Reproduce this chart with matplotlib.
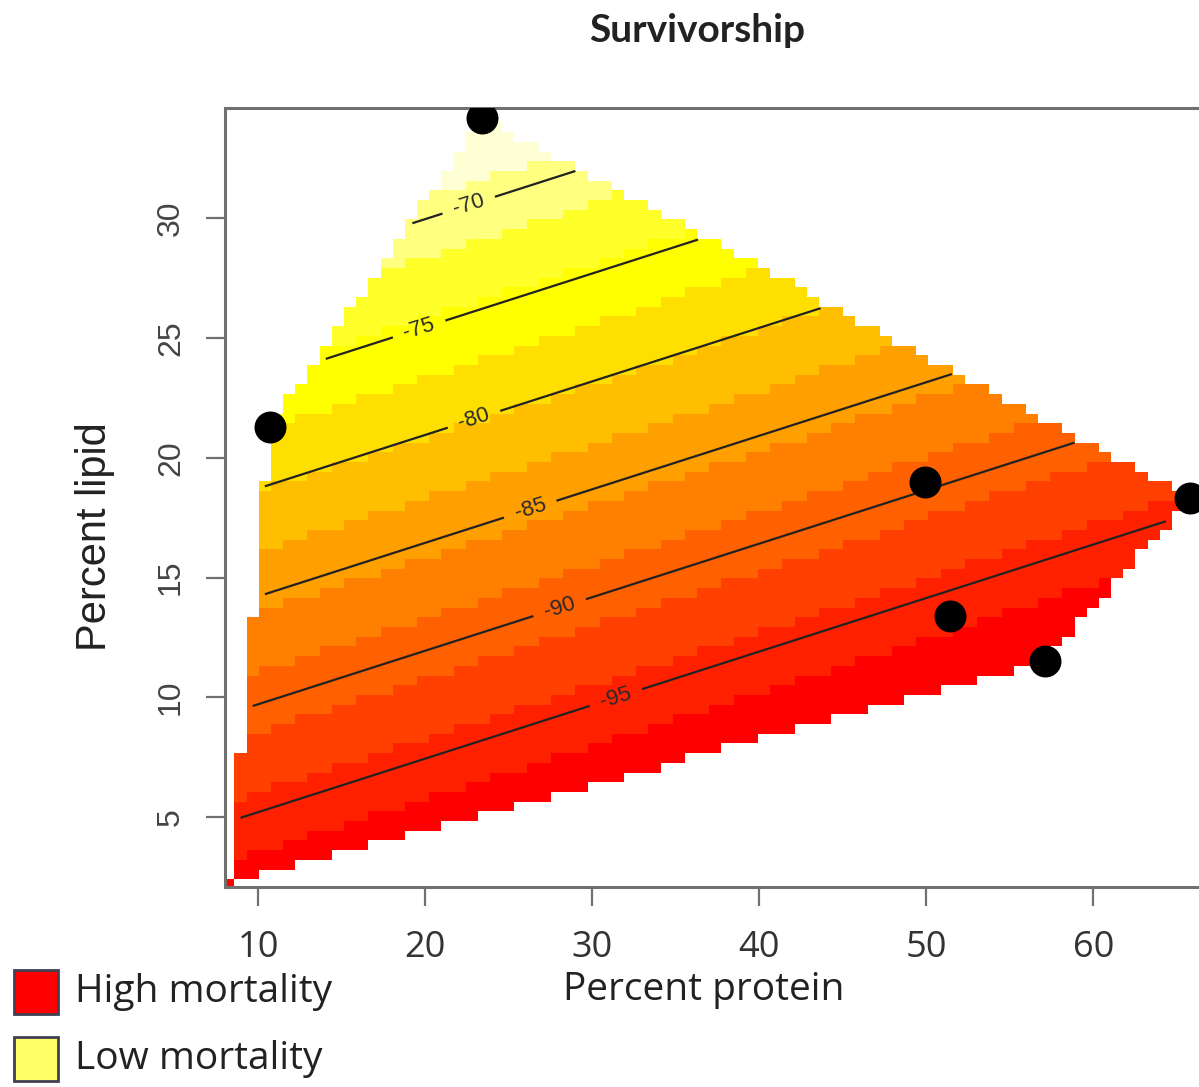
import numpy as np
import matplotlib.pyplot as plt
from matplotlib.colors import ListedColormap, Normalize, hsv_to_rgb
from matplotlib.tri import Triangulation
from matplotlib.patches import Rectangle

# diets tested (percent protein, percent lipid)
protein = [23.4, 10.7, 49.9, 65.8, 51.4, 57.1]
lipid = [34.2, 21.3, 19.0, 18.3, 13.4, 11.5]
# low protein / low lipid corner of the diet space
corner = (8.2, 2.2)

# fitted survivorship surface: intercept, protein slope, lipid slope
coef = [-98.3, -0.248, 1.11]

contour_levels = [-95, -90, -85, -80, -75, -70]
label_spots = [(31.4, 10.0), (28.1, 13.6), (26.3, 17.8),
               (23.0, 21.4), (19.7, 25.2), (22.7, 30.3)]

legend_labels = ['High mortality', 'Low mortality']
legend_colors = ['#ff0000', '#ffff66']

x_ticks = [10, 20, 30, 40, 50, 60]
y_ticks = [5, 10, 15, 20, 25, 30]


def heat_colors(n):
    """Same ramp as R's heat.colors(n)"""
    j = n // 4
    i = n - j
    cols = [hsv_to_rgb((h, 1, 1)) for h in np.linspace(0, 1 / 6, i)]
    sats = np.linspace(1 - 1 / (2 * j), 1 / (2 * j), j)
    cols += [hsv_to_rgb((1 / 6, s, 1)) for s in sats]
    return cols


# grid over the diet space, masked outside the convex hull
hx = np.array(protein + [corner[0]])
hy = np.array(lipid + [corner[1]])
gx = np.linspace(hx.min(), hx.max(), 80)
gy = np.linspace(hy.min(), hy.max(), 80)
X, Y = np.meshgrid(gx, gy)
Z = coef[0] + coef[1] * X + coef[2] * Y

finder = Triangulation(hx, hy).get_trifinder()
inside = finder(X, Y) >= 0
# let cells sitting on the hull vertices count as inside
for px, py in zip(hx, hy):
    inside |= (np.abs(X - px) < 0.4) & (np.abs(Y - py) < 0.25)
Zm = np.ma.masked_where(~inside, Z)

fig = plt.figure(figsize=(11.99, 10.87), dpi=100)
ax = fig.add_axes([225 / 1199, 200 / 1087, 1002 / 1199, 779 / 1087])

cmap = ListedColormap(heat_colors(12))
norm = Normalize(vmin=Zm.min(), vmax=Zm.max())
ax.pcolormesh(X, Y, Zm, shading='nearest', cmap=cmap, norm=norm)

cs = ax.contour(X, Y, Zm, levels=contour_levels, colors='#222222',
                linewidths=1.6, negative_linestyles='solid')
lbls = ax.clabel(cs, fmt='%d', fontsize=16, inline=True, inline_spacing=10,
                 manual=label_spots)
for t in lbls:
    t.set_color('#2a2a2a')
    t.set_family('Liberation Sans')

ax.scatter(protein, lipid, s=530, c='black', zorder=5, linewidths=0)

ax.set_xlim(8.0, 68.0)
ax.set_ylim(2.08, 34.6)

for s in ax.spines.values():
    s.set_color('#707070')
    s.set_linewidth(2.2)

ax.set_xticks(x_ticks)
ax.set_yticks(y_ticks)
ax.tick_params(axis='both', length=14, width=1.6, color='#707070')
ax.tick_params(axis='x', pad=17)
ax.tick_params(axis='y', pad=14)
ax.set_xticklabels([str(v) for v in x_ticks], family='Open Sans',
                   fontsize=26, color='#333333')
ax.set_yticklabels([str(v) for v in y_ticks], family='Liberation Sans',
                   fontsize=23, color='#444444', rotation=90, va='center')

fig.text(95 / 1199, 1 - 537 / 1087, 'Percent lipid', family='Liberation Sans',
         fontsize=30, color='#222222', rotation=90, ha='center', va='center')
fig.text(704 / 1199, 1 - 990 / 1087, 'Percent protein', family='Open Sans',
         fontsize=28, color='#222222', ha='center', va='center')

fig.text(697 / 1199, 1 - 30 / 1087, 'Survivorship', family='Lato',
         fontweight='bold', fontsize=28, color='#222222', ha='center', va='center')

# legend boxes drawn in figure coordinates
for k, (lab, col) in enumerate(zip(legend_labels, legend_colors)):
    top = 970 + k * 67
    fig.patches.append(Rectangle((14 / 1199, 1 - (top + 44) / 1087), 44 / 1199, 44 / 1087,
                                 transform=fig.transFigure, facecolor=col,
                                 edgecolor='#404055', linewidth=2))
    fig.text(75 / 1199, 1 - (top + 22) / 1087, lab, family='Open Sans',
             fontsize=28, color='#222222', ha='left', va='center')

fig.savefig('out.png', dpi=100)
